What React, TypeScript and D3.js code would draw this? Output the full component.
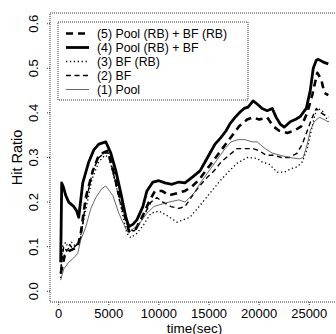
import React from "react";
import * as d3 from "d3";

const W = 336;
const H = 334;

const xTicks = [0, 5000, 10000, 15000, 20000, 25000];
const yTicks = [0.0, 0.1, 0.2, 0.3, 0.4, 0.5, 0.6];

// [time(sec), hit ratio]
const pool4: [number, number][] = [
  [200,0.065],[300,0.243],[450,0.235],[700,0.215],[1000,0.2],[1500,0.19],[1800,0.18],[2000,0.166],[2400,0.243],[3000,0.29],[3500,0.317],[4000,0.33],[4700,0.335],[5200,0.31],[5700,0.27],[6200,0.22],[6700,0.166],[7000,0.145],[7400,0.15],[7800,0.16],[8400,0.19],[8800,0.225],[9400,0.245],[10000,0.248],[10600,0.243],[11300,0.24],[12000,0.245],[12600,0.243],[13400,0.257],[14100,0.27],[14600,0.29],[15100,0.31],[15600,0.33],[16200,0.345],[16700,0.36],[17100,0.376],[17600,0.39],[18100,0.402],[18500,0.41],[18900,0.413],[19400,0.427],[19800,0.42],[20300,0.41],[20800,0.405],[21300,0.41],[21700,0.39],[22100,0.375],[22500,0.368],[23100,0.38],[23600,0.385],[24100,0.392],[24700,0.41],[25100,0.45],[25400,0.5],[25700,0.518],[25900,0.52],[26400,0.514],[26900,0.51],
];
const pool5: [number, number][] = [
  [200,0.04],[600,0.08],[1000,0.09],[1500,0.095],[1900,0.1],[2200,0.13],[2700,0.21],[3400,0.27],[4000,0.305],[4400,0.31],[4900,0.315],[5500,0.265],[6000,0.22],[6400,0.19],[7000,0.135],[7700,0.14],[8400,0.17],[9000,0.2],[9600,0.225],[10300,0.225],[11000,0.215],[11800,0.22],[12600,0.225],[13300,0.235],[14000,0.25],[15000,0.28],[16000,0.31],[17000,0.34],[18000,0.37],[18800,0.385],[19400,0.39],[20000,0.385],[20800,0.39],[21400,0.37],[22000,0.36],[22800,0.355],[23500,0.36],[24200,0.37],[24800,0.4],[25300,0.44],[25800,0.49],[26200,0.475],[26500,0.445],[26900,0.44],
];
const bf2: [number, number][] = [
  [200,0.05],[500,0.1],[800,0.09],[1100,0.105],[1400,0.095],[1800,0.105],[2200,0.12],[2700,0.2],[3400,0.27],[4000,0.3],[4600,0.31],[5000,0.31],[5500,0.26],[6000,0.21],[6500,0.17],[7000,0.14],[7500,0.135],[8000,0.15],[8500,0.17],[9200,0.2],[9800,0.21],[10400,0.2],[11200,0.19],[12000,0.186],[12600,0.19],[13200,0.21],[14000,0.235],[14800,0.255],[15500,0.27],[16200,0.29],[17000,0.305],[17800,0.32],[18600,0.32],[19400,0.32],[20000,0.315],[20700,0.305],[21500,0.305],[22200,0.3],[23000,0.3],[23800,0.31],[24300,0.33],[24800,0.36],[25300,0.39],[25700,0.41],[26200,0.4],[26900,0.39],
];
const bf3: [number, number][] = [
  [200,0.03],[400,0.1],[700,0.11],[1000,0.095],[1300,0.11],[1700,0.1],[2100,0.115],[2600,0.17],[3300,0.25],[4000,0.29],[4600,0.305],[5000,0.3],[5600,0.25],[6200,0.19],[6800,0.13],[7200,0.12],[7800,0.13],[8500,0.15],[9200,0.175],[10000,0.18],[10800,0.17],[11800,0.155],[12400,0.16],[13100,0.166],[14000,0.19],[15100,0.22],[16000,0.245],[16800,0.265],[17800,0.287],[18800,0.3],[19800,0.298],[20300,0.29],[21000,0.285],[21800,0.267],[22500,0.267],[23200,0.275],[23800,0.279],[24300,0.29],[24800,0.32],[25100,0.35],[25500,0.39],[25800,0.41],[26300,0.405],[26900,0.38],
];
const pool1: [number, number][] = [
  [200,0.025],[500,0.05],[1000,0.065],[1500,0.075],[1900,0.085],[2200,0.115],[2700,0.144],[3200,0.185],[3700,0.21],[4300,0.23],[4700,0.236],[5400,0.215],[6000,0.175],[6700,0.14],[7000,0.13],[7400,0.14],[8000,0.15],[8800,0.175],[9500,0.19],[10200,0.195],[11000,0.2],[12000,0.205],[12600,0.2],[13500,0.22],[14200,0.245],[15000,0.27],[15800,0.295],[16600,0.32],[17200,0.335],[17900,0.34],[18600,0.34],[19300,0.335],[19800,0.335],[20600,0.32],[21300,0.31],[22100,0.305],[23000,0.3],[24000,0.297],[24400,0.3],[24800,0.33],[25100,0.36],[25500,0.38],[26000,0.39],[26500,0.385],[26900,0.38],
];

const legendLabels = [
  "(5) Pool (RB) + BF (RB)",
  "(4) Pool (RB) + BF",
  "(3) BF (RB)",
  "(2) BF",
  "(1) Pool",
];

const styles = [
  { w: 2.6, dash: "7,5", color: "#000" },
  { w: 2.8, dash: "", color: "#000" },
  { w: 1.3, dash: "1.3,2.6", color: "#000" },
  { w: 1.4, dash: "5,3.5", color: "#000" },
  { w: 0.8, dash: "", color: "#444" },
];
const seriesData = [pool5, pool4, bf3, bf2, pool1];

export default function App() {
  const L = 50, T = 13, R = 339, B = 302;
  const x = d3.scaleLinear().domain([-868, 27968]).range([L, R]);
  const y = d3.scaleLinear().domain([-0.024, 0.624]).range([B, T]);
  const line = d3
    .line<[number, number]>()
    .x((d) => x(d[0]))
    .y((d) => y(d[1]));
  const font = "'Liberation Sans', Arial, Helvetica, sans-serif";
  const fs = 13;
  const lfs = 12.3;

  return (
    <div style={{ position: "absolute", left: 0, top: 0 }}>
      <svg width={W} height={H} style={{ display: "block", background: "#fff" }} fontFamily={font}>
        <rect x={L} y={T} width={R - L} height={B - T} fill="none" stroke="#000" strokeWidth={0.8} strokeDasharray="1,1" />
        {/* x axis */}
        {xTicks.map((t) => (
          <g key={"x" + t}>
            <line x1={x(t)} x2={x(t)} y1={B} y2={B + 3} stroke="#000" strokeWidth={0.8} strokeDasharray="1,1" />
            <text x={x(t)} y={317.5} fontSize={fs} textAnchor="middle">{t}</text>
          </g>
        ))}
        <text x={(L + R) / 2} y={332.5} fontSize={13.5} textAnchor="middle">time(sec)</text>
        {/* y axis */}
        {yTicks.map((t) => (
          <g key={"y" + t}>
            <line x1={L - 3} x2={L} y1={y(t)} y2={y(t)} stroke="#000" strokeWidth={0.8} strokeDasharray="1,1" />
            <text transform={`translate(38,${y(t)}) rotate(-90)`} fontSize={fs} textAnchor="middle">{t.toFixed(1)}</text>
          </g>
        ))}
        <text transform={`translate(22,${(T + B) / 2}) rotate(-90)`} fontSize={14.5} textAnchor="middle">Hit Ratio</text>
        {/* series */}
        {seriesData.map((s, i) => (
          <path key={"s" + i} d={line(s) || ""} fill="none" stroke={styles[i].color} strokeWidth={styles[i].w}
            strokeDasharray={styles[i].dash || undefined} strokeLinejoin="round" />
        ))}
        {/* legend */}
        <rect x={58} y={22} width={190} height={78} fill="#fff" stroke="#000" strokeWidth={0.8} strokeDasharray="1,1" />
        {legendLabels.map((lab, i) => {
          const ly = 33.5 + i * 14;
          return (
            <g key={"l" + i}>
              <line x1={66} x2={89} y1={ly} y2={ly} stroke={styles[i].color} strokeWidth={styles[i].w}
                strokeDasharray={styles[i].dash || undefined} />
              <text x={97} y={ly + 4.3} fontSize={lfs}>{lab}</text>
            </g>
          );
        })}
      </svg>
    </div>
  );
}
